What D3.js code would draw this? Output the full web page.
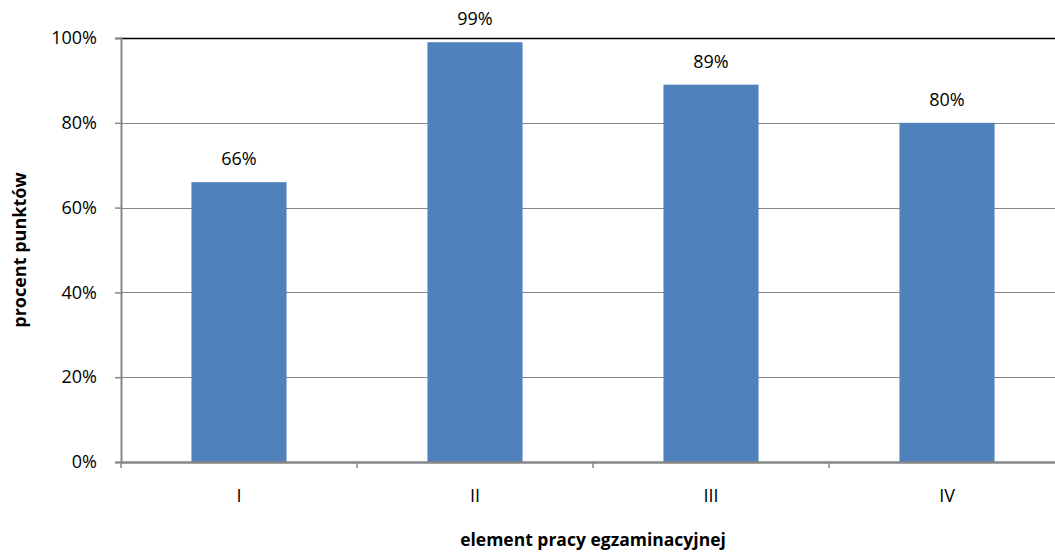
<!DOCTYPE html>
<html><head><meta charset="utf-8">
<script src="https://cdn.jsdelivr.net/npm/d3@7"></script>
<style>body{margin:0;background:#fff}svg{display:block}text{font-family:"Open Sans",sans-serif}</style>
</head><body>
<svg id="c" width="1055" height="553"></svg>
<script>
const categories = ["I", "II", "III", "IV"];
const values = [0.66, 0.99, 0.89, 0.80];
const yTicks = [0, 0.2, 0.4, 0.6, 0.8, 1.0];
const xTitle = "element pracy egzaminacyjnej";
const yTitle = "procent punktów";

(function () {
const svg = d3.select("#c");
const pL = 121, pR = 1065, pT = 38, pB = 462;
const x = d3.scaleBand().domain(categories).range([pL, pR]).paddingInner(0.597).paddingOuter(0.2985);
const xb = d3.scaleBand().domain(categories).range([pL, pR]).padding(0);
const y = d3.scaleLinear().domain([0, 1]).range([pB, pT]);
const fmt = d3.format(".0%");

// gridlines
svg.append("g").selectAll("line").data(yTicks.filter(d => d > 0)).join("line")
  .attr("x1", pL).attr("x2", pR)
  .attr("y1", d => Math.round(y(d)) + 0.5).attr("y2", d => Math.round(y(d)) + 0.5)
  .attr("stroke", d => d === 1 ? "#000" : "#868686").attr("stroke-width", d => d === 1 ? 1.5 : 1.2);

// bars
svg.append("g").selectAll("rect").data(values).join("rect")
  .attr("x", (d, i) => x(categories[i])).attr("width", x.bandwidth())
  .attr("y", d => y(d)).attr("height", d => y(0) - y(d))
  .attr("fill", "#4F81BD");

// value labels
svg.append("g").selectAll("text").data(values).join("text")
  .attr("x", (d, i) => x(categories[i]) + x.bandwidth() / 2)
  .attr("y", d => y(d) - 17)
  .attr("text-anchor", "middle").attr("font-size", 18).attr("fill", "#000")
  .text(d => fmt(d));

// y axis
const ya = svg.append("g").attr("transform", `translate(${pL},0)`)
  .call(d3.axisLeft(y).tickValues(yTicks).tickFormat(fmt).tickSize(6).tickPadding(18));
ya.select(".domain").attr("stroke", "#868686").attr("stroke-width", 2);
ya.selectAll(".tick line").attr("stroke", "#868686").attr("stroke-width", 1.5);
ya.selectAll("text").attr("font-size", 18).attr("fill", "#000").style("font-family", "Open Sans");

// x axis
const xa = svg.append("g").attr("transform", `translate(0,${pB})`)
  .call(d3.axisBottom(xb).tickSize(0).tickPadding(27));
xa.select(".domain").attr("stroke", "#868686").attr("stroke-width", 2.5);
xa.selectAll("text").attr("font-size", 18).attr("fill", "#000").style("font-family", "Open Sans");
// category boundary ticks
svg.append("g").selectAll("line").data(categories).join("line")
  .attr("x1", d => xb(d)).attr("x2", d => xb(d))
  .attr("y1", pB).attr("y2", pB + 6)
  .attr("stroke", "#868686").attr("stroke-width", 1.5);

// titles
svg.append("text").attr("x", (pL + pR) / 2).attr("y", 546)
  .attr("text-anchor", "middle").attr("font-size", 17.5).attr("font-weight", "bold").text(xTitle);
svg.append("text").attr("transform", `translate(26,${(pT + pB) / 2}) rotate(-90)`)
  .attr("text-anchor", "middle").attr("font-size", 18).attr("font-weight", "bold").text(yTitle);
})();
</script>
</body></html>
